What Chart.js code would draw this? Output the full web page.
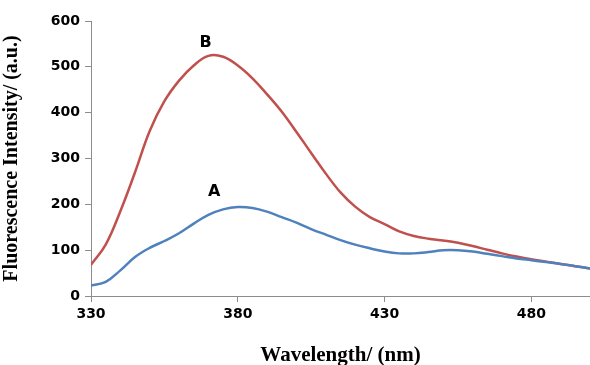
<!DOCTYPE html>
<html>
<head>
<meta charset="utf-8">
<script src="https://cdn.jsdelivr.net/npm/chart.js@4"></script>
<style>
  html, body { margin: 0; padding: 0; background: #fff; }
</style>
</head>
<body>
<canvas id="myChart" width="590" height="365"></canvas>
<script>
// wavelengths (nm)
const wavelengths = [330, 335, 340, 345, 350, 355, 360, 365, 370, 375, 380, 385, 390, 395, 400, 405, 410,
  415, 420, 425, 430, 435, 440, 445, 450, 455, 460, 465, 470, 475, 480, 485, 490, 495, 500];
// curve A (blue)
const seriesA = [23, 31, 56, 85, 105, 120, 137, 158, 177, 189, 194, 192, 184, 172, 160, 146, 134,
  122, 112, 104, 97, 93, 93, 96, 100, 100, 97, 92, 87, 82, 78, 74, 70, 65, 60];
// curve B (red)
const seriesB = [68, 112, 185, 270, 360, 425, 470, 503, 524, 522, 503, 475, 440, 402, 358, 312, 267,
  226, 195, 172, 157, 141, 131, 125, 121, 116, 109, 101, 93, 86, 80, 75, 70, 65, 60];
const xTicks = [330, 380, 430, 480];
const yTicks = [0, 100, 200, 300, 400, 500, 600];
// curve labels: [text, wavelength, intensity]
const curveLabels = [["A", 372, 228], ["B", 369, 553]];

function toPoints(ys) {
  let pts = [];
  for (let i = 0; i < wavelengths.length; i += 1) {
    pts.push({ x: wavelengths[i], y: ys[i] });
  }
  return pts;
}

const labelPlugin = {
  id: "curveLabels",
  afterDatasetsDraw(chart) {
    const ctx = chart.ctx;
    ctx.save();
    ctx.font = "bold 16px 'DejaVu Sans'";
    ctx.fillStyle = "#000";
    ctx.textAlign = "center";
    ctx.textBaseline = "middle";
    curveLabels.forEach(function (l) {
      ctx.fillText(l[0], chart.scales.x.getPixelForValue(l[1]), chart.scales.y.getPixelForValue(l[2]));
    });
    ctx.restore();
  }
};

const axisColor = "#8c8c8c";
const tickFont = { family: "DejaVu Sans", size: 14, weight: "bold" };

const ctx = document.getElementById("myChart").getContext("2d");
const myChart = new Chart(ctx, {
  type: "line",
  data: {
    datasets: [
      {
        label: "A",
        data: toPoints(seriesA),
        borderColor: "#4F81BD",
        borderWidth: 2.5,
        pointRadius: 0,
        tension: 0.4,
        fill: false,
      },
      {
        label: "B",
        data: toPoints(seriesB),
        borderColor: "#C0504D",
        borderWidth: 2.5,
        pointRadius: 0,
        tension: 0.4,
        fill: false,
      },
    ],
  },
  options: {
    responsive: false,
    animation: false,
    devicePixelRatio: 1,
    layout: { padding: { top: 21, right: 0, left: 0, bottom: 0 } },
    plugins: { legend: { display: false }, tooltip: { enabled: false } },
    scales: {
      x: {
        type: "linear",
        min: 330,
        max: 500,
        afterBuildTicks(scale) { scale.ticks = xTicks.map(v => ({ value: v })); },
        afterFit(scale) { scale.height = 69; },
        grid: { display: true, drawOnChartArea: false, drawTicks: true, tickLength: 6, color: axisColor },
        border: { display: true, color: axisColor, width: 1 },
        ticks: { color: "#000", font: tickFont, padding: 4, maxRotation: 0 },
        title: {
          display: true,
          text: "Wavelength/ (nm)",
          color: "#000",
          font: { family: "Liberation Serif", size: 21, weight: "bold" },
          padding: { top: 19, bottom: -3 },
        },
      },
      y: {
        min: 0,
        max: 600,
        afterBuildTicks(scale) { scale.ticks = yTicks.map(v => ({ value: v })); },
        afterFit(scale) { scale.width = 91; },
        grid: { display: true, drawOnChartArea: false, drawTicks: true, tickLength: 6, color: axisColor },
        border: { display: true, color: axisColor, width: 1 },
        ticks: { color: "#000", font: tickFont, padding: 5 },
        title: {
          display: true,
          text: "Fluorescence Intensity/ (a.u.)",
          color: "#000",
          font: { family: "Liberation Serif", size: 20, weight: "bold" },
          padding: { top: 0, bottom: 6 },
        },
      },
    },
  },
  plugins: [labelPlugin],
});
</script>
</body>
</html>
